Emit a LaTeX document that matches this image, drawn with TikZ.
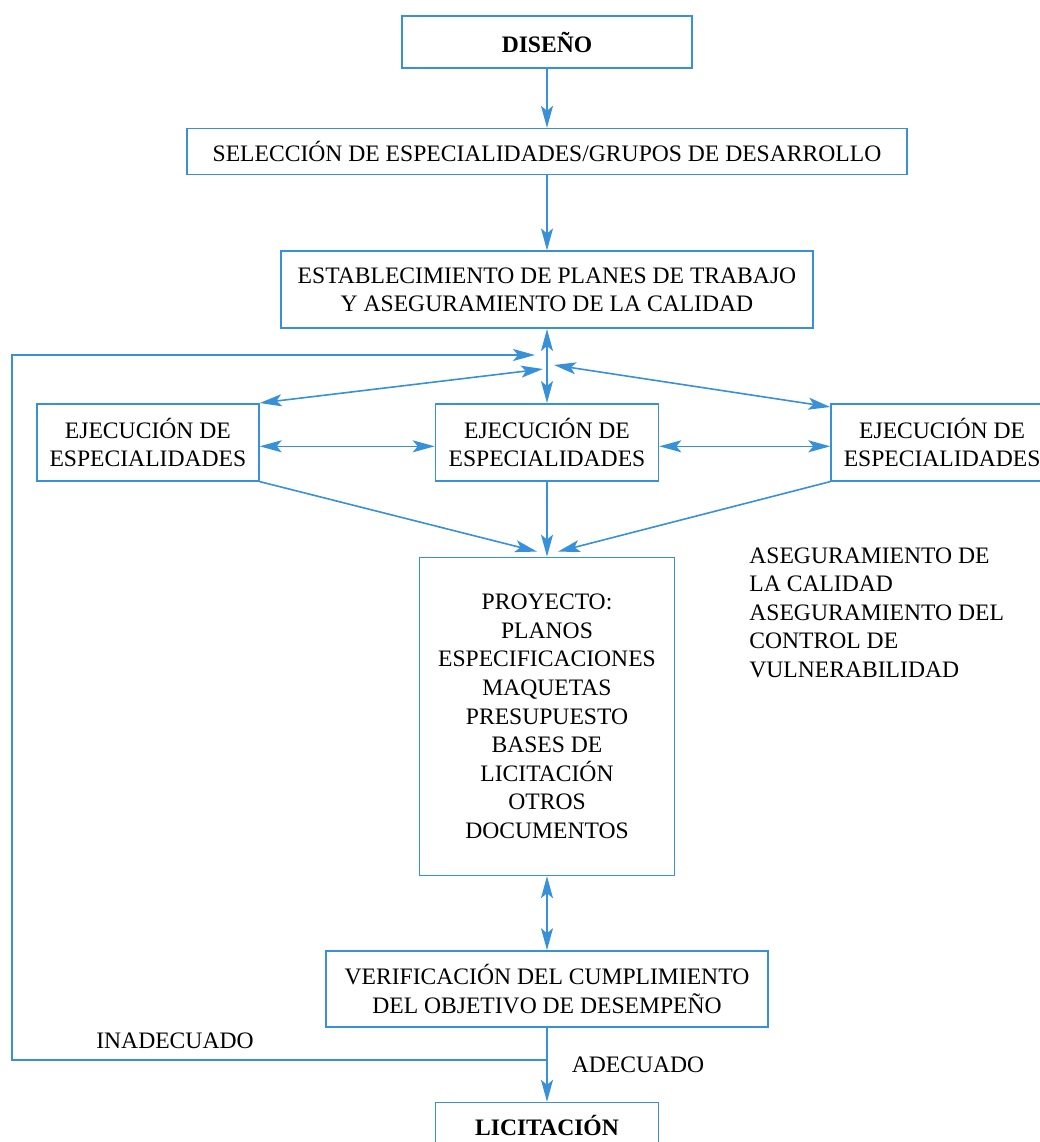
\documentclass[tikz,border=0pt]{standalone}
\usepackage{fontspec}
\setmainfont{Liberation Serif}
\usepackage{xcolor}
\usetikzlibrary{positioning,arrows.meta}
\definecolor{azul}{RGB}{55,144,216}

\begin{document}
\begin{tikzpicture}[x=0.5pt, y=-0.5pt,
    every node/.style={font=\fontsize{11.8}{14.3}\selectfont},
    caja/.style={draw=azul, line width=0.8pt, rectangle, align=center, inner sep=0pt},
    flecha/.style={draw=azul, line width=0.8pt, -{Stealth[length=11pt,width=6pt,inset=2.5pt]}},
    doble/.style={draw=azul, line width=0.8pt, {Stealth[length=11pt,width=6pt,inset=2.5pt]}-{Stealth[length=11pt,width=6pt,inset=2.5pt]}}]
    \useasboundingbox (0,0) rectangle (1040,1142);

    \node[caja, minimum width=145pt, minimum height=26pt] (diseno) at (547,42) {\textbf{DISEÑO}};
    \node[caja, minimum width=360pt, minimum height=23pt, below=29.5pt of diseno] (seleccion) {SELECCIÓN DE ESPECIALIDADES/GRUPOS DE DESARROLLO};
    \node[caja, minimum width=266pt, minimum height=38.5pt, below=37.5pt of seleccion] (planes) {ESTABLECIMIENTO DE PLANES DE TRABAJO\\Y ASEGURAMIENTO DE LA CALIDAD};
    \node[caja, minimum width=111.5pt, minimum height=38.5pt, below=37pt of planes] (ejecC) {EJECUCIÓN DE\\ESPECIALIDADES};
    \node[caja, minimum width=111pt, minimum height=38.5pt, left=87.5pt of ejecC] (ejecI) {EJECUCIÓN DE\\ESPECIALIDADES};
    \node[caja, minimum width=111pt, minimum height=38.5pt, right=85.5pt of ejecC] (ejecD) {EJECUCIÓN DE\\ESPECIALIDADES};
    \node[caja, minimum width=127.5pt, minimum height=159pt, below=37.5pt of ejecC] (proyecto) {PROYECTO:\\PLANOS\\ESPECIFICACIONES\\MAQUETAS\\PRESUPUESTO\\BASES DE\\LICITACIÓN\\OTROS\\DOCUMENTOS};
    \node[caja, minimum width=221pt, minimum height=38pt, below=37pt of proyecto] (verif) {VERIFICACIÓN DEL CUMPLIMIENTO\\DEL OBJETIVO DE DESEMPEÑO};
    \node[caja, minimum width=111.5pt, minimum height=23pt, below=37pt of verif] (licit) {\textbf{LICITACIÓN}};

    \node[anchor=north west, inner sep=0pt, align=left] (asegura) at (749,547) {ASEGURAMIENTO DE\\LA CALIDAD\\ASEGURAMIENTO DEL\\CONTROL DE\\VULNERABILIDAD};
    \node (inadecuado) at (175,1041) {INADECUADO};
    \node (adecuado) at (638,1065) {ADECUADO};

    % puntos del cruce y del retorno
    \coordinate (entrada) at ([xshift=-6pt,yshift=-13pt]planes.south);
    \coordinate (cruceI) at ([xshift=-2pt,yshift=-20pt]planes.south);
    \coordinate (cruceD) at ([xshift=3.5pt,yshift=-18pt]planes.south);
    \coordinate (rama) at ([yshift=-16pt]verif.south);
    \coordinate (borde) at (12,0);

    \draw[flecha] (diseno) -- (seleccion);
    \draw[flecha] (seleccion) -- (planes);
    \draw[doble] (planes) -- (ejecC);
    \draw[doble] (cruceI) -- (ejecI.north east);
    \draw[doble] (cruceD) -- ([yshift=-2pt]ejecD.north west);
    \draw[doble] ([yshift=-2pt]ejecI.east) -- ([yshift=-2pt]ejecC.west);
    \draw[doble] ([yshift=-2pt]ejecC.east) -- ([yshift=-2pt]ejecD.west);
    \draw[flecha] (ejecI.south east) -- ([xshift=-5pt,yshift=2.5pt]proyecto.north);
    \draw[flecha] (ejecC) -- (proyecto);
    \draw[flecha] (ejecD.south west) -- ([xshift=5.5pt,yshift=2.5pt]proyecto.north);
    \draw[doble] (proyecto) -- (verif);
    \draw[flecha] (verif) -- (licit);
    \draw[flecha] (rama) -| (entrada -| borde) -- (entrada);
\end{tikzpicture}
\end{document}
